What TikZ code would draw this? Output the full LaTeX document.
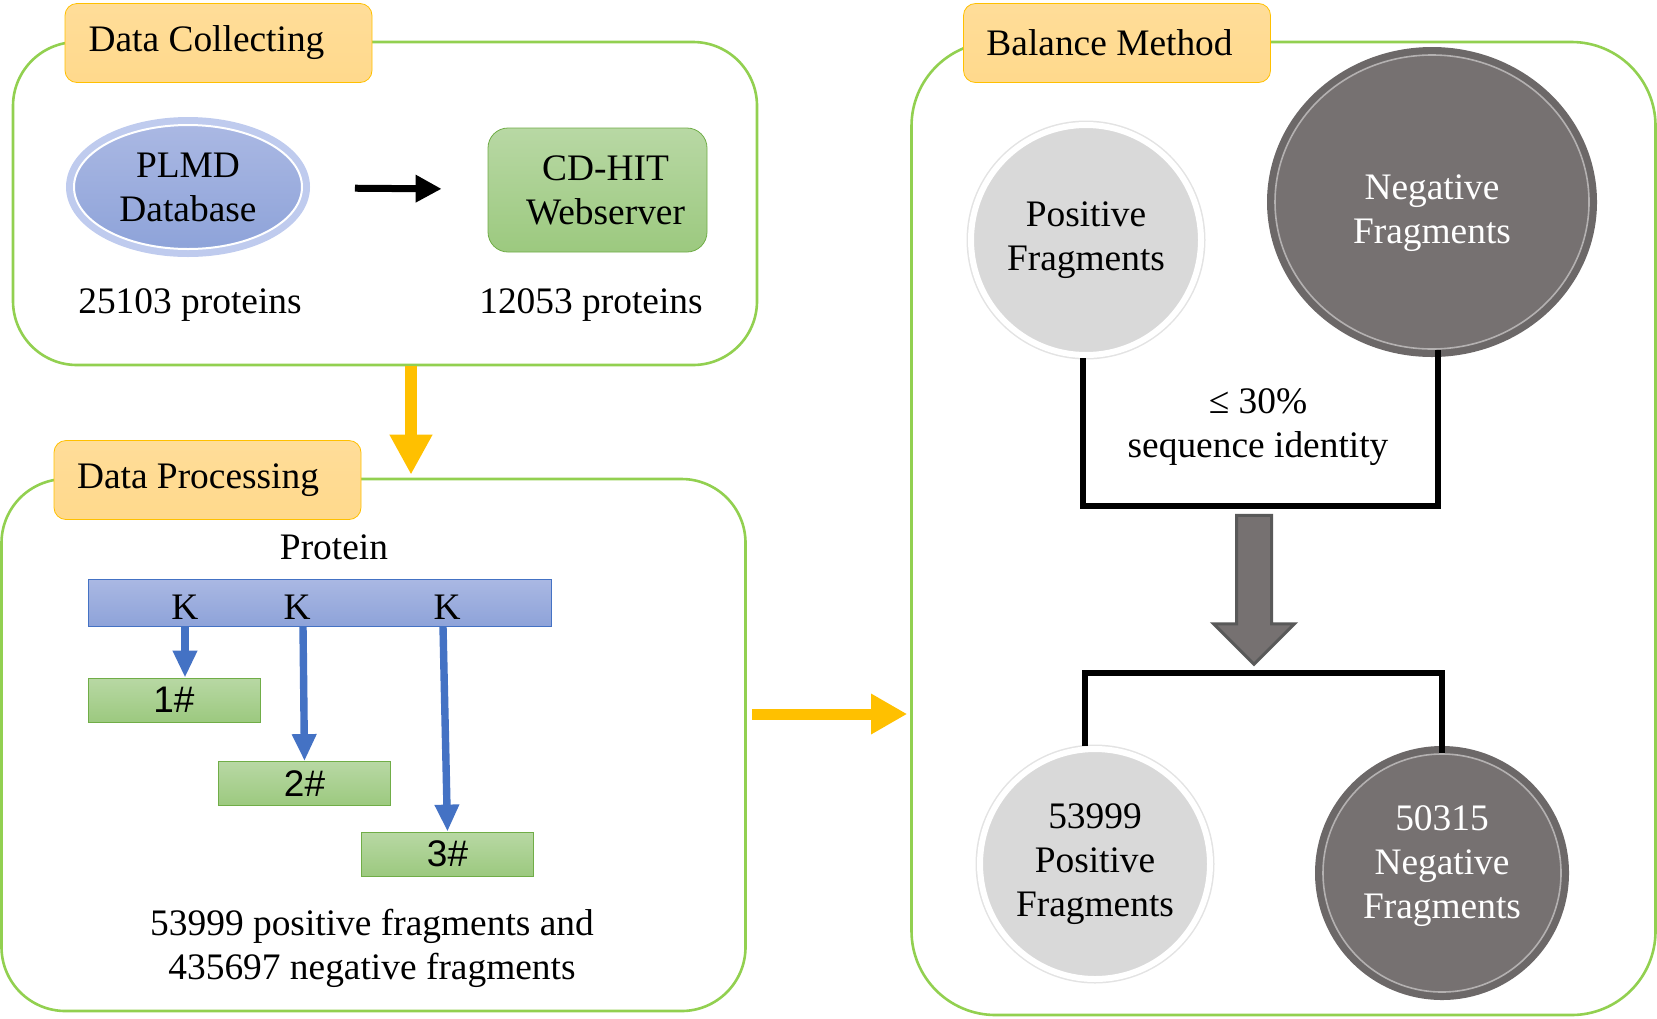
\documentclass[tikz,border=0pt]{standalone}
\usepackage{fontspec}
\setmainfont{Liberation Serif}
\newfontfamily\tagfont{Liberation Sans}
\usetikzlibrary{arrows.meta,shapes.geometric,shapes.arrows,positioning}

\definecolor{panelgreen}{HTML}{92D050}
\definecolor{tagfill}{HTML}{FFD98C}
\definecolor{tagtop}{HTML}{FFDD99}
\definecolor{tagedge}{HTML}{FFC000}
\definecolor{boxtop}{HTML}{B8D8A4}
\definecolor{boxbot}{HTML}{9CC97F}
\definecolor{boxedge}{HTML}{70AD47}
\definecolor{bartop}{HTML}{AAB8E3}
\definecolor{barbot}{HTML}{8EA3D9}
\definecolor{baredge}{HTML}{4472C4}
\definecolor{glowblue}{HTML}{BFCBEE}
\definecolor{lightfrag}{HTML}{D9D9D9}
\definecolor{darkfrag}{HTML}{767171}
\definecolor{darkring}{HTML}{6C6868}
\definecolor{arrowedge}{HTML}{595959}

\begin{document}
\begin{tikzpicture}[x=0.5pt, y=-0.5pt,
    every node/.style={font=\fontsize{18.7}{22}\selectfont, align=center},
    panel/.style={draw=panelgreen, line width=1.3pt, rounded corners=32pt, minimum width=372pt},
    tag/.style={draw=tagedge, top color=tagtop, bottom color=tagfill, rounded corners=6pt, minimum width=153.5pt, minimum height=39.5pt, inner sep=0pt},
    plmd/.style={ellipse, top color=bartop, bottom color=barbot, draw=white, line width=1pt, preaction={draw=glowblue, line width=8pt}, minimum width=114pt, minimum height=62pt, inner sep=0pt},
    server/.style={draw=boxedge, top color=boxtop, bottom color=boxbot, rounded corners=10pt, minimum width=109.5pt, minimum height=62pt, inner sep=0pt},
    bar/.style={draw=baredge, top color=bartop, bottom color=barbot, minimum width=231.5pt, minimum height=23.5pt, inner sep=0pt},
    frag/.style={draw=boxedge, top color=boxtop, bottom color=boxbot, minimum width=86pt, minimum height=22pt, inner sep=0pt, font=\tagfont\fontsize{18.5}{22}\selectfont},
    posfrag/.style={ellipse, fill=lightfrag, draw=white, line width=3pt, preaction={draw=black!11, line width=4.5pt}, inner sep=0pt},
    negfrag/.style={ellipse, fill=darkfrag, draw=white!45!darkfrag, line width=0.8pt, preaction={draw=darkring, line width=8pt}, inner sep=0pt},
    bigarrow/.style={single arrow, rotate=-90, fill=darkfrag, draw=arrowedge, line width=1.5pt, minimum height=74.5pt, minimum width=39pt, single arrow head extend=11.5pt, inner xsep=0pt, inner ysep=8pt},
    blkarr/.style={-{Triangle[width=13pt,length=13pt]}, line width=3.5pt},
    orarr/.style={-{Triangle[width=20pt,length=20pt]}, draw=tagedge, line width=6.3pt},
    sidearr/.style={-{Triangle[width=19pt,length=18pt]}, draw=tagedge, line width=5.5pt},
    bluearr/.style={-{Triangle[width=11.5pt,length=13.5pt]}, draw=baredge, line width=3.7pt},
    bracket/.style={line width=2.6pt}
]
\useasboundingbox (0,0) rectangle (1657,1018);

\node[panel, minimum height=161.5pt] (collect) at (385,203.5) {};
\node[panel, minimum height=266pt] (process) at (373.5,745) {};
\node[panel, minimum height=486.5pt, rounded corners=42pt] (balance) at (1283.5,528.5) {};

\node[tag] (tagcollect) at (218.5,43) {Data Collecting\hspace*{12pt}};
\node[tag] (tagprocess) at (207.5,480) {Data Processing\hspace*{9.5pt}};
\node[tag] (tagbalance) at (1117,43) {Balance Method\hspace*{7.5pt}};

\node[plmd] (db) at (188,187) {PLMD\\Database};
\node[server] (cdhit) at (597.5,190) {\hspace*{8pt}CD-HIT\\\hspace*{8pt}Webserver};
\node (nraw) at (190,305) {25103 proteins};
\node (nclean) at (591,305) {12053 proteins};

\node (protein) at (334,547) {Protein};
\node[bar] (bar) at (319.5,602.5) {};
\node (k1) at (185,607) {K};
\node (k2) at (297,607) {K};
\node (k3) at (447,607) {K};
\node[frag] (f1) at (174,700) {1\#};
\node[frag] (f2) at (304.5,783.5) {2\#};
\node[frag] (f3) at (447.5,854) {3\#};
\node (total) at (372,948) {53999 positive fragments and\\435697 negative fragments};

\node[posfrag, minimum width=115pt, minimum height=115pt] (pos1) at (1086,240) {Positive\\Fragments};
\node[negfrag, minimum width=157pt, minimum height=147pt] (neg1) at (1432,202) {};
\node[text=white] (neg1txt) at ([yshift=-5.5pt]neg1.center) {Negative\\Fragments};
\node (ident) at (1258,427) {≤ 30\%\\sequence identity};
\node[bigarrow] (shrink) at (1254,581) {};
\node[posfrag, minimum width=115pt, minimum height=115pt] (pos2) at (1095,864) {53999\\Positive\\Fragments};
\node[negfrag, minimum width=119pt, minimum height=119pt] (neg2) at (1442,873) {};
\node[text=white] (neg2txt) at ([yshift=3.5pt]neg2.center) {50315\\Negative\\Fragments};

\coordinate (join) at (1258,506);
\coordinate (split) at (1254,673);
\coordinate (drop) at ([xshift=13pt]collect.south);
\coordinate (feed) at ([yshift=15.5pt]process.east);

\draw[blkarr, shorten <=26pt, shorten >=23pt] (db) -- (cdhit);
\draw[orarr, shorten >=1.5pt] (drop) -- (drop |- process.north);
\draw[sidearr, shorten <=2.5pt, shorten >=1.5pt] (feed) -- (feed -| balance.west);
\draw[bluearr] (k1.south |- bar.south) -- (k1.south |- f1.north);
\draw[bluearr] ([xshift=3pt]k2.south |- bar.south) -- (f2.north);
\draw[bluearr] ([xshift=-2pt]k3.south |- bar.south) -- (f3.north);
\draw[bracket] ([xshift=-1.5pt]pos1.south) |- (join) -| ([xshift=3pt]neg1.south);
\draw[bracket] ([xshift=-5pt]pos2.north) |- (split) -| (neg2.north);
\end{tikzpicture}
\end{document}
